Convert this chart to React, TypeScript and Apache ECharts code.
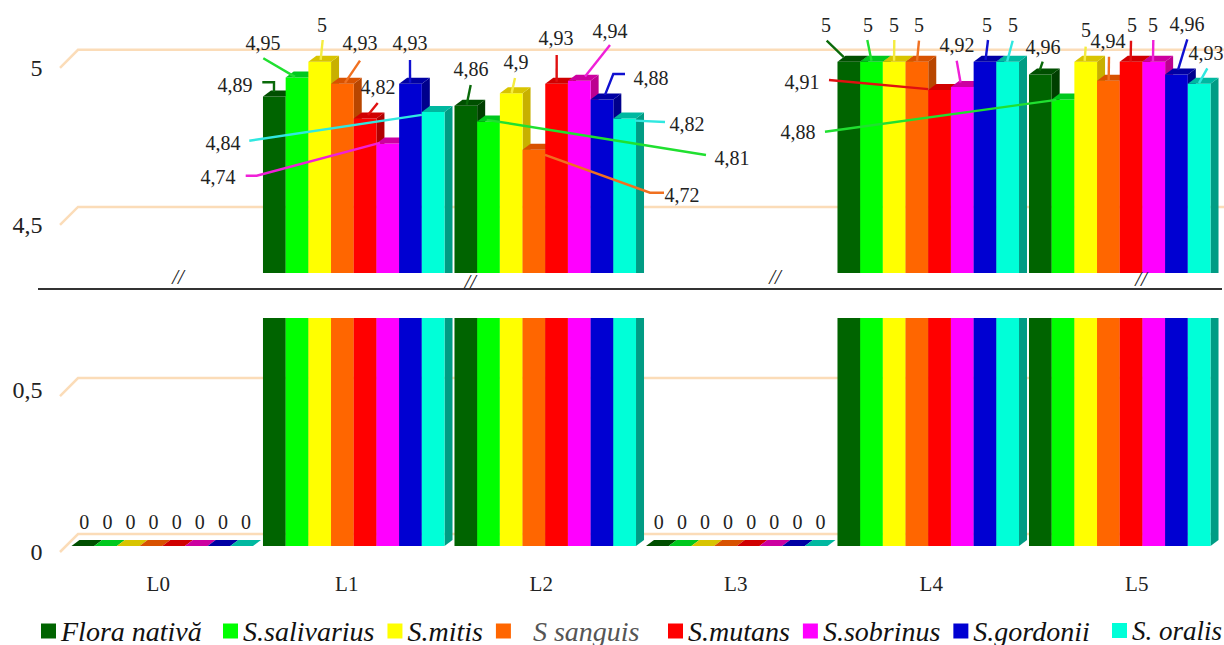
import React, { useEffect, useRef } from "react";
import * as echarts from "echarts";

// Plaque counts per level, one array per species
const categories = ["L0", "L1", "L2", "L3", "L4", "L5"];
const speciesNames = [
  "Flora nativă",
  "S.salivarius",
  "S.mitis",
  "S sanguis",
  "S.mutans",
  "S.sobrinus",
  "S.gordonii",
  "S. oralis",
];
const floraNativa = [0, 4.89, 4.86, 0, 5, 4.96];
const salivarius = [0, 4.95, 4.81, 0, 5, 4.88];
const mitis = [0, 5, 4.9, 0, 5, 5];
const sanguis = [0, 4.93, 4.72, 0, 5, 4.94];
const mutans = [0, 4.82, 4.93, 0, 4.91, 5];
const sobrinus = [0, 4.74, 4.94, 0, 4.92, 5];
const gordonii = [0, 4.93, 4.88, 0, 5, 4.96];
const oralis = [0, 4.84, 4.82, 0, 5, 4.93];
const speciesValues = [floraNativa, salivarius, mitis, sanguis, mutans, sobrinus, gordonii, oralis];

const upperTicks = [4.5, 5];
const lowerTicks = [0, 0.5];

// Axis window on each side of the broken scale
const upperMin = 4.328;
const upperMax = 5.2;
const lowerMin = 0;
const lowerMax = 0.731;

// Face colours of the extruded bars
const frontColors = ["#006400", "#00ff00", "#ffff00", "#ff6600", "#ff0000", "#ff00ff", "#0000d2", "#00ffd8"];
const topColors = ["#004f00", "#00c81e", "#d8c400", "#d85200", "#d00000", "#cc00a0", "#0000a4", "#00b8a0"];
const sideColors = ["#003f00", "#00a818", "#c8b000", "#b84600", "#b00000", "#bc0090", "#00008c", "#009c84"];
const leaderColors = ["#0a6a0a", "#20e030", "#f4ec40", "#f07020", "#e01010", "#f020d8", "#1010d0", "#30e8e0"];

const wallColor = "#fbdcb8";
const inkColor = "#222222";
const serif = "'Liberation Serif', 'Times New Roman', serif";

// Bar extrusion and plane offsets, in pixels
const depthX = 8;
const depthY = 6;
const planeShiftY = 6;
const wallX = 18;
const wallY = 18;
const barBandShare = 0.1185;

type Callout = { text: number[]; tip: number[]; via: number[][] };
const c = (tx: number, ty: number, dx: number, dy: number, ...via: number[][]): Callout => ({
  text: [tx, ty],
  tip: [dx, dy],
  via,
});

// Value label placement and leader route for each level and species
const calloutLayout: Record<number, Callout[]> = {
  1: [
    c(235, 85, 11, -4.5, [262.3, 82.3], [274, 82.3]),
    c(263, 43, 9.3, -0.7, [263.3, 58.3]),
    c(322, 25, 12.3, -2, [322.7, 40]),
    c(360, 43, 13.9, -1, [360, 60.7]),
    c(378, 87, 14.2, -3.5, [377.7, 103]),
    c(218, 177, 3.5, -0.6, [245.7, 175.7], [256.7, 175.7]),
    c(410, 43, 10.9, -1, [410, 60]),
    c(223, 143, 0, 2.8, [249.3, 140.7]),
  ],
  2: [
    c(471, 69, 12.2, -1, [470.7, 85]),
    c(732, 158, 9.5, -1.7, [706, 155]),
    c(516, 62, 11.8, -0.4, [515, 78]),
    c(682, 195, 22.4, 5, [664, 192.7], [650, 192.7]),
    c(556, 38, 11.4, -2, [556.7, 55]),
    c(610, 31, 17.1, -4.1, [610, 45]),
    c(651, 78, 14.4, -4.7, [625, 74], [613.3, 74]),
    c(687, 124, 21.7, 2.2, [665, 122]),
  ],
  4: [
    c(826, 25, 6.3, -4.7, [826.7, 40.7]),
    c(868, 25, 11.3, -1, [867.3, 40]),
    c(894, 25, 11.2, -1, [894.3, 40]),
    c(919, 25, 11.5, -1, [919, 40.7]),
    c(802, 82, 0, -1, [829, 80]),
    c(957, 45, 9.6, -4.4, [956.7, 60.7]),
    c(987, 25, 11.9, -2, [988, 40]),
    c(1013, 25, 10.8, -0.3, [1012.7, 40.7]),
  ],
  5: [
    c(1043, 47, 10.7, -3.9, [1042.7, 61.7]),
    c(798, 132, 4.7, 0.3, [825, 131.7]),
    c(1086, 30, 10.3, -1, [1085.7, 46.7]),
    c(1108, 41, 11.6, -0.8, [1109, 56.7]),
    c(1132, 25, 10.9, -0.3, [1131, 40.7]),
    c(1153, 25, 10.5, -0.3, [1153.3, 40]),
    c(1187, 24, 12.9, -4.6, [1187.3, 39.3]),
    c(1206, 53, 11.2, -0.7, [1207.3, 68.3]),
  ],
};

// Level labels do not sit exactly under their groups
const categoryLabelShift = [-4, -7, -4, -1, 3, 17];
const breakMarks = [
  [178, 277],
  [470, 282],
  [775, 277],
  [1141, 279],
];

// Legend runs: the left edge of each run and the species it lists
const legendRuns = [
  { left: 41, species: [0] },
  { left: 223, species: [1, 2, 3] },
  { left: 668, species: [4, 5, 6] },
  { left: 1112, species: [7] },
];
const legendNameStyles: Record<number, any> = {
  3: { color: "#555555", padding: [0, 0, 0, 17] },
  7: { fontSize: 27 },
};

const commaText = (v: number) => String(v).replace(".", ",");

// Left edge, width and top/base of the front face of one bar
function barGeometry(api: any, species: number, cat: number, value: number, min: number, max: number) {
  const clamped = Math.min(value, max);
  const center = api.coord([cat, min]);
  const band = api.size([1, 0])[0];
  const w = band * barBandShare;
  const x = center[0] - (w * speciesValues.length) / 2 + species * w;
  const base = center[1] - planeShiftY;
  const top = api.coord([cat, clamped])[1] - planeShiftY;
  return { x, w, base, top, clipped: value > max };
}

function barSeries(species: number, gridIndex: number, min: number, max: number) {
  return {
    type: "custom",
    name: speciesNames[species],
    xAxisIndex: gridIndex,
    yAxisIndex: gridIndex,
    silent: true,
    z: 3,
    itemStyle: { color: frontColors[species] },
    encode: { x: 0, y: 1 },
    data: speciesValues[species]
      .map((v, cat) => [cat, v])
      .filter((d) => (min > 0 ? d[1] >= min : true)),
    renderItem: (_: any, api: any) => {
      const cat = api.value(0);
      const value = api.value(1);
      const { x, w, base, top, clipped } = barGeometry(api, species, cat, value, min, max);
      const children: any[] = [];
      const sideBase = min > 0 ? base : base - depthY;
      if (value > 0) {
        const sideTop = clipped ? top : top - depthY;
        children.push({
          type: "polygon",
          shape: {
            points: [
              [x + w, top],
              [x + w + depthX, sideTop],
              [x + w + depthX, sideBase],
              [x + w, base],
            ],
          },
          style: { fill: sideColors[species] },
        });
        children.push({
          type: "rect",
          shape: { x, y: top, width: w, height: base - top },
          style: { fill: frontColors[species] },
        });
      }
      if (!clipped) {
        children.push({
          type: "polygon",
          shape: {
            points: [
              [x, top],
              [x + depthX, top - depthY],
              [x + w + depthX, top - depthY],
              [x + w, top],
            ],
          },
          style: { fill: topColors[species] },
        });
      }
      return { type: "group", children };
    },
  };
}

// Peach wall lines: a short diagonal from the axis, then a run along the back wall
function wallSeries(gridIndex: number, ticks: number[], rightExtra: number) {
  return {
    type: "custom",
    silent: true,
    xAxisIndex: gridIndex,
    yAxisIndex: gridIndex,
    z: 1,
    encode: { x: 0, y: 1 },
    data: ticks.map((t) => [0, t]),
    renderItem: (params: any, api: any) => {
      const sys = params.coordSys;
      const y = api.coord([0, api.value(1)])[1];
      const x0 = sys.x - 6.5;
      return {
        type: "polyline",
        shape: {
          points: [
            [x0, y],
            [x0 + wallX, y - wallY],
            [sys.x + sys.width + rightExtra, y - wallY],
          ],
        },
        style: { stroke: wallColor, lineWidth: 2.5, fill: "none" },
      };
    },
  };
}

const calloutData: number[][] = [];
speciesValues.forEach((values, species) =>
  values.forEach((v, cat) => {
    if (v > 0) calloutData.push([cat, v, species]);
  }),
);

const calloutSeries = {
  type: "custom",
  silent: true,
  xAxisIndex: 0,
  yAxisIndex: 0,
  z: 6,
  encode: { x: 0, y: 1 },
  data: calloutData,
  renderItem: (_: any, api: any) => {
    const cat = api.value(0);
    const value = api.value(1);
    const species = api.value(2);
    const layout = calloutLayout[cat][species];
    const { x, top } = barGeometry(api, species, cat, value, upperMin, upperMax);
    return {
      type: "group",
      children: [
        {
          type: "polyline",
          shape: { points: [...layout.via, [x + layout.tip[0], top + layout.tip[1]]] },
          style: { stroke: leaderColors[species], lineWidth: 2.4, fill: "none" },
        },
        {
          type: "text",
          style: {
            text: commaText(value),
            x: layout.text[0],
            y: layout.text[1],
            fill: inkColor,
            font: `20px ${serif}`,
            align: "center",
            verticalAlign: "middle",
          },
        },
      ],
    };
  },
};

const zeroData: number[][] = [];
speciesValues.forEach((values, species) =>
  values.forEach((v, cat) => {
    if (v === 0) zeroData.push([cat, v, species]);
  }),
);

const zeroLabelSeries = {
  type: "custom",
  silent: true,
  xAxisIndex: 1,
  yAxisIndex: 1,
  z: 6,
  encode: { x: 0, y: 1 },
  data: zeroData,
  renderItem: (_: any, api: any) => {
    const species = api.value(2);
    const { x, w, top } = barGeometry(api, species, api.value(0), api.value(1), lowerMin, lowerMax);
    return {
      type: "text",
      style: {
        text: commaText(api.value(1)),
        x: x + w / 2 + 1.5 + species * 0.4,
        y: top - 24,
        fill: inkColor,
        font: `20px ${serif}`,
        align: "center",
        verticalAlign: "middle",
      },
    };
  },
};

const categoryLabelSeries = {
  type: "custom",
  silent: true,
  xAxisIndex: 1,
  yAxisIndex: 1,
  z: 6,
  encode: { x: 0, y: 1 },
  data: categories.map((_, i) => [i, 0]),
  renderItem: (_: any, api: any) => {
    const cat = api.value(0);
    const p = api.coord([cat, 0]);
    return {
      type: "text",
      style: {
        text: categories[cat],
        x: p[0] + categoryLabelShift[cat],
        y: p[1] + 32,
        fill: inkColor,
        font: `21px ${serif}`,
        align: "center",
        verticalAlign: "middle",
      },
    };
  },
};

function yAxisFor(gridIndex: number, min: number, max: number, ticks: number[]) {
  return {
    type: "value",
    gridIndex,
    min,
    max,
    axisLine: { show: false },
    axisTick: { show: false },
    splitLine: { show: false },
    axisLabel: {
      customValues: ticks,
      margin: 24,
      color: inkColor,
      fontFamily: serif,
      fontSize: 24,
      formatter: (v: number) => (v === 0.5 ? `{raised|${commaText(v)}}` : commaText(v)),
      rich: { raised: { fontFamily: serif, fontSize: 24, color: inkColor, padding: [0, 0, 12, 0] } },
    },
  };
}

function xAxisFor(gridIndex: number) {
  return {
    type: "category",
    gridIndex,
    data: categories,
    axisLine: { show: false },
    axisTick: { show: false },
    axisLabel: { show: false },
    splitLine: { show: false },
  };
}

const option: any = {
  animation: false,
  backgroundColor: "#ffffff",
  grid: [
    { left: 66.5, width: 1149, top: 5, height: 274 },
    { left: 66.5, width: 1149, top: 324, height: 228 },
  ],
  xAxis: [xAxisFor(0), xAxisFor(1)],
  yAxis: [yAxisFor(0, upperMin, upperMax, upperTicks), yAxisFor(1, lowerMin, lowerMax, lowerTicks)],
  legend: legendRuns.map((run) => ({
    left: run.left,
    top: 617,
    padding: 0,
    itemWidth: 15,
    itemHeight: 15,
    itemGap: 13,
    selectedMode: false,
    textStyle: { fontFamily: serif, fontStyle: "italic", fontSize: 28, color: "#111111" },
    data: run.species.map((i) => ({
      name: speciesNames[i],
      icon: "rect",
      textStyle: legendNameStyles[i] ?? {},
    })),
  })),
  graphic: [
    {
      type: "line",
      shape: { x1: 38, y1: 289, x2: 1222, y2: 289 },
      style: { stroke: "#333333", lineWidth: 2 },
      z: 10,
    },
    ...breakMarks.map(([x, y]) => ({
      type: "text",
      style: {
        text: "//",
        x,
        y,
        fill: inkColor,
        font: `italic 21px ${serif}`,
        align: "center",
        verticalAlign: "middle",
      },
      z: 10,
    })),
  ],
  series: [
    wallSeries(0, upperTicks, 8.5),
    wallSeries(1, lowerTicks, 0),
    ...speciesNames.map((_, i) => barSeries(i, 0, upperMin, upperMax)),
    ...speciesNames.map((_, i) => barSeries(i, 1, lowerMin, lowerMax)),
    calloutSeries,
    zeroLabelSeries,
    categoryLabelSeries,
  ],
};

export default function App() {
  const ref = useRef<HTMLDivElement>(null);
  useEffect(() => {
    const chart = echarts.init(ref.current, null, { renderer: "svg" });
    chart.setOption(option);
    return () => chart.dispose();
  }, []);
  return <div ref={ref} style={{ position: "fixed", left: 0, top: 0, width: 1224, height: 645 }} />;
}
